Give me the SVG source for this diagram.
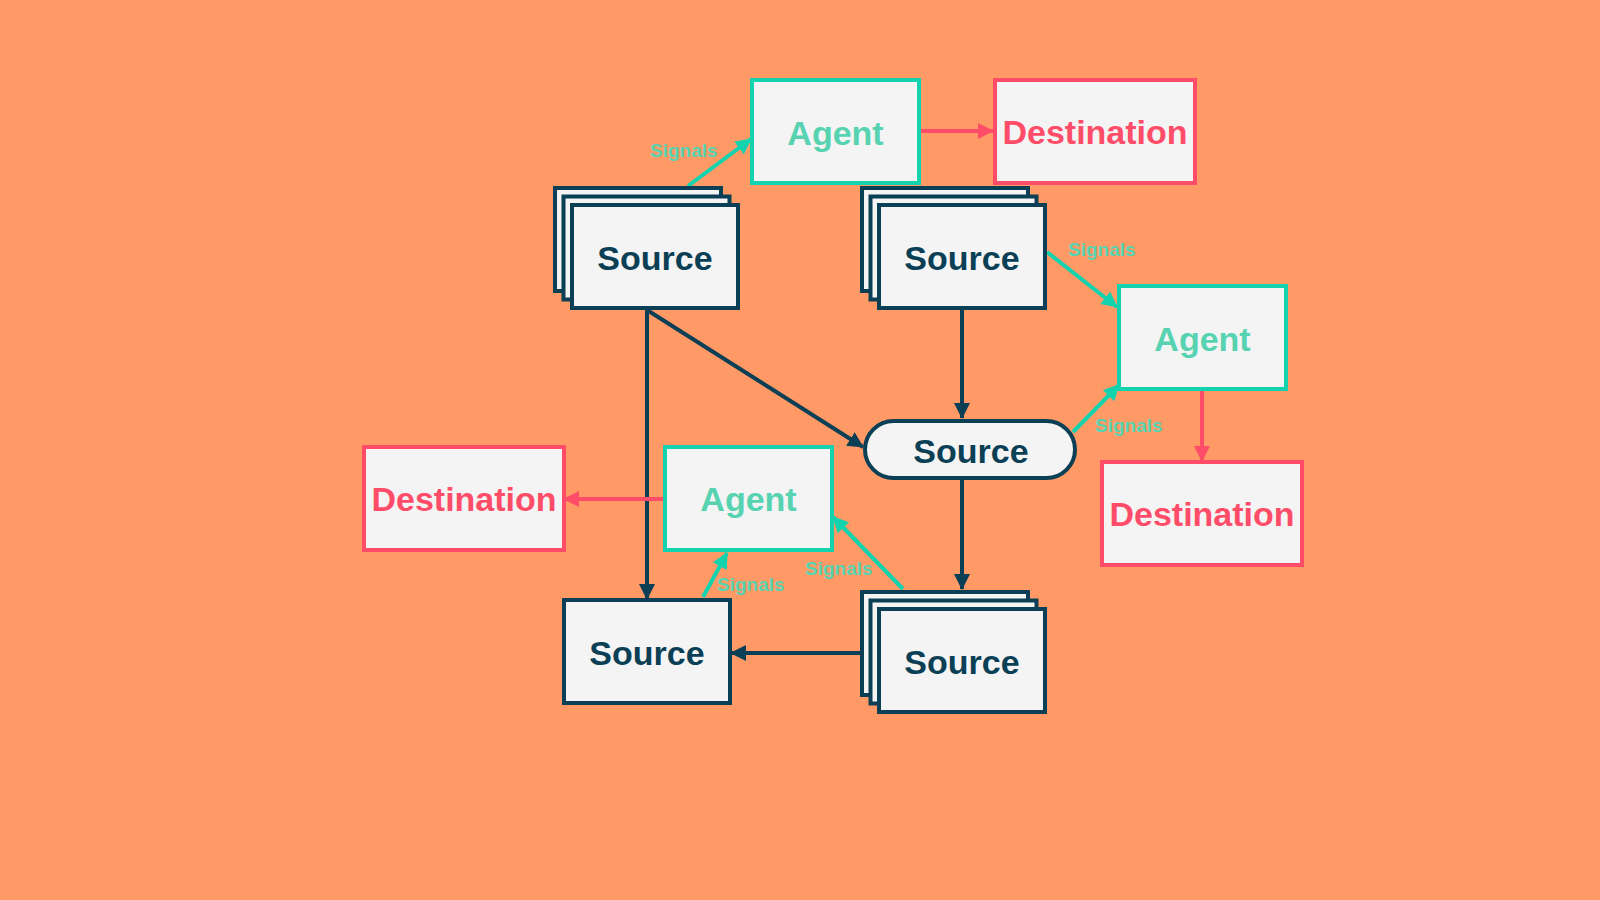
<svg xmlns="http://www.w3.org/2000/svg" width="1600" height="900" viewBox="0 0 1600 900">
<style>
.bg{fill:#FF9A66}
.box{fill:#F4F4F4;stroke-width:4}
.src{stroke:#0B3F55}
.agt{stroke:#12D3AE}
.dst{stroke:#FF4D69}
.t{font-family:"Liberation Sans",Arial,sans-serif;font-weight:700;font-size:34px;text-anchor:middle}
.ts{fill:#0B3F55}
.ta{fill:#57D3B1}
.td{fill:#FF4D69}
.sig{font-family:"Liberation Sans",Arial,sans-serif;font-weight:700;font-size:19px;fill:#57D3B1}
.c{fill:none;stroke-width:4}
.cd{stroke:#0B3F55}
.ct{stroke:#12D3AE}
.cr{stroke:#FF4D69}
</style>
<defs>
<marker id="ad" markerWidth="17" markerHeight="17" refX="15" refY="8" orient="auto" markerUnits="userSpaceOnUse"><path d="M0,0 L16,8 L0,16 Z" fill="#0B3F55"/></marker>
<marker id="at" markerWidth="17" markerHeight="17" refX="15" refY="8" orient="auto" markerUnits="userSpaceOnUse"><path d="M0,0 L16,8 L0,16 Z" fill="#12D3AE"/></marker>
<marker id="ar" markerWidth="17" markerHeight="17" refX="15" refY="8" orient="auto" markerUnits="userSpaceOnUse"><path d="M0,0 L16,8 L0,16 Z" fill="#FF4D69"/></marker>
</defs>
<rect class="bg" x="0" y="0" width="1600" height="900"/>

<g id="connectors">
<line class="c ct" x1="688" y1="186" x2="751" y2="139" marker-end="url(#at)"/>
<line class="c cr" x1="921" y1="131" x2="993" y2="131" marker-end="url(#ar)"/>
<line class="c ct" x1="1047" y1="252" x2="1117" y2="307" marker-end="url(#at)"/>
<line class="c cd" x1="962" y1="310" x2="962" y2="418" marker-end="url(#ad)"/>
<line class="c cd" x1="647" y1="310" x2="863" y2="447" marker-end="url(#ad)"/>
<line class="c cd" x1="647" y1="310" x2="647" y2="599" marker-end="url(#ad)"/>
<line class="c ct" x1="1073" y1="432" x2="1119" y2="385" marker-end="url(#at)"/>
<line class="c cr" x1="1202" y1="389" x2="1202" y2="461" marker-end="url(#ar)"/>
<line class="c cd" x1="962" y1="480" x2="962" y2="589" marker-end="url(#ad)"/>
<line class="c ct" x1="903" y1="589" x2="833" y2="517" marker-end="url(#at)"/>
<line class="c cd" x1="860" y1="653" x2="731" y2="653" marker-end="url(#ad)"/>
<line class="c cr" x1="663" y1="499" x2="564" y2="499" marker-end="url(#ar)"/>
<line class="c ct" x1="703" y1="597" x2="727" y2="553" marker-end="url(#at)"/>
<text class="sig" x="650" y="157">Signals</text>
<text class="sig" x="1068" y="256">Signals</text>
<text class="sig" x="1095" y="432">Signals</text>
<text class="sig" x="805" y="575">Signals</text>
<text class="sig" x="717" y="591">Signals</text>
</g>

<g id="agent-top">
<rect class="box agt" x="752" y="80" width="167" height="103"/>
<text class="t ta" x="835.5" y="145">Agent</text>
</g>
<g id="destination-top">
<rect class="box dst" x="995" y="80" width="200" height="103"/>
<text class="t td" x="1095" y="144">Destination</text>
</g>
<g id="source-stack-1">
<rect class="box src" x="555" y="188" width="166" height="103"/>
<rect class="box src" x="563.5" y="196.5" width="166" height="103"/>
<rect class="box src" x="572" y="205" width="166" height="103"/>
<text class="t ts" x="655" y="270">Source</text>
</g>
<g id="source-stack-2">
<rect class="box src" x="862" y="188" width="166" height="103"/>
<rect class="box src" x="870.5" y="196.5" width="166" height="103"/>
<rect class="box src" x="879" y="205" width="166" height="103"/>
<text class="t ts" x="962" y="270">Source</text>
</g>
<g id="agent-right">
<rect class="box agt" x="1119" y="286" width="167" height="103"/>
<text class="t ta" x="1202.5" y="351">Agent</text>
</g>
<g id="source-pill">
<rect class="box src" x="865" y="421" width="210" height="57" rx="28.5"/>
<text class="t ts" x="971" y="463">Source</text>
</g>
<g id="destination-right">
<rect class="box dst" x="1102" y="462" width="200" height="103"/>
<text class="t td" x="1202" y="526">Destination</text>
</g>
<g id="destination-left">
<rect class="box dst" x="364" y="447" width="200" height="103"/>
<text class="t td" x="464" y="511">Destination</text>
</g>
<g id="agent-left">
<rect class="box agt" x="665" y="447" width="167" height="103"/>
<text class="t ta" x="748.5" y="511">Agent</text>
</g>
<g id="source-bottom-left">
<rect class="box src" x="564" y="600" width="166" height="103"/>
<text class="t ts" x="647" y="665">Source</text>
</g>
<g id="source-stack-3">
<rect class="box src" x="862" y="592" width="166" height="103"/>
<rect class="box src" x="870.5" y="600.5" width="166" height="103"/>
<rect class="box src" x="879" y="609" width="166" height="103"/>
<text class="t ts" x="962" y="674">Source</text>
</g>
</svg>
